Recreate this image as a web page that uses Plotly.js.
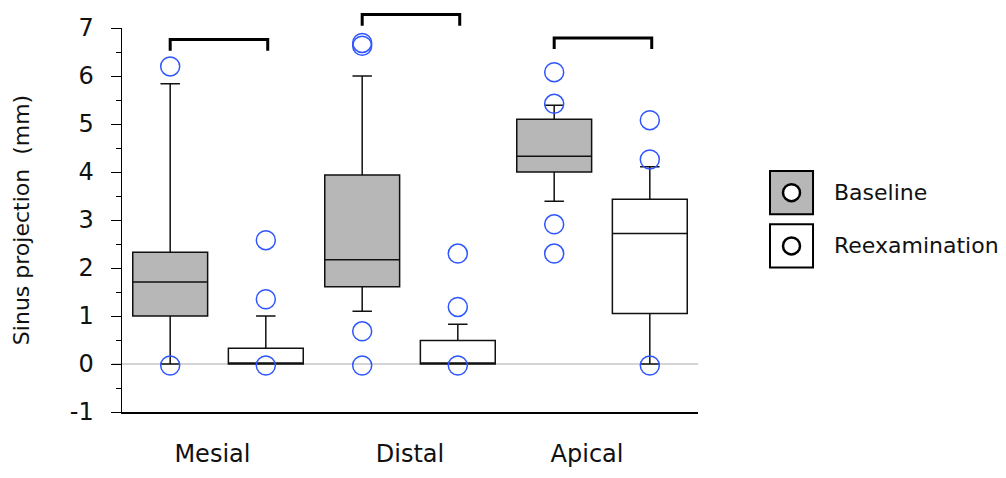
<!DOCTYPE html>
<html>
<head>
<meta charset="utf-8">
<script src="https://cdn.plot.ly/plotly-3.0.1.min.js"></script>
<style>html,body{margin:0;padding:0;background:#fff;}#chart{width:1006px;height:478px;}</style>
</head>
<body>
<div id="chart"></div>
<script>
// ---- data ----
const categories = ['Mesial', 'Distal', 'Apical'];
const seriesNames = ['Baseline', 'Reexamination'];

const baseQ1     = [1.00, 1.61, 4.00];
const baseMedian = [1.71, 2.17, 4.33];
const baseQ3     = [2.33, 3.94, 5.10];
const baseLower  = [0.00, 1.10, 3.39];
const baseUpper  = [5.84, 6.00, 5.39];

const reQ1     = [0.00, 0.00, 1.05];
const reMedian = [0.00, 0.00, 2.72];
const reQ3     = [0.33, 0.49, 3.43];
const reLower  = [0.00, 0.00, 0.00];
const reUpper  = [1.00, 0.83, 4.11];

const baseOutliers = [[6.20, -0.03], [6.69, 6.63, 0.68, -0.03], [6.08, 5.42, 2.91, 2.30]];
const reOutliers   = [[2.58, 1.35, -0.03], [2.30, 1.19, -0.03], [5.08, 4.26, -0.03]];

const yTickVals = [-1, 0, 1, 2, 3, 4, 5, 6, 7];
const yTickText = ['-1', '0', '1', '2', '3', '4', '5', '6', '7'];

// ---- layout helpers ----
const off = 0.249, bw = 0.39;
const idx = categories.map((c, i) => i);
const basePos = idx.map(i => i - off);
const rePos = idx.map(i => i + off);
const labelShift = [-0.029, 0.0, -0.078];   // label placement tweak (layout only)
const FONT = 'DejaVu Sans, sans-serif';
const BLUE = '#2f55ff';

function outlierTrace(pos, outs) {
  const x = [], y = [];
  outs.forEach((arr, i) => arr.forEach(v => { x.push(pos[i]); y.push(v); }));
  return {type: 'scatter', mode: 'markers', x: x, y: y, showlegend: false, hoverinfo: 'skip',
    marker: {symbol: 'circle-open', size: 19, color: BLUE, line: {width: 1.5, color: BLUE}}};
}

const traces = [
  {type: 'box', name: seriesNames[0], x: basePos, q1: baseQ1, median: baseMedian, q3: baseQ3,
   lowerfence: baseLower, upperfence: baseUpper, width: bw, whiskerwidth: 0.26,
   fillcolor: '#b7b7b7', line: {color: '#111', width: 1.5}, boxpoints: false, showlegend: false, hoverinfo: 'skip'},
  {type: 'box', name: seriesNames[1], x: rePos, q1: reQ1, median: reMedian, q3: reQ3,
   lowerfence: reLower, upperfence: reUpper, width: bw, whiskerwidth: 0.26,
   fillcolor: '#ffffff', line: {color: '#111', width: 1.5}, boxpoints: false, showlegend: false, hoverinfo: 'skip'},
  outlierTrace(basePos, baseOutliers),
  outlierTrace(rePos, reOutliers)
];

// brackets (paper y, top / bottom of legs)
const bracketTop = [0.970, 1.035, 0.974];
const bracketLeg = 0.029;
const shapes = [];
idx.forEach(i => {
  shapes.push({type: 'path', xref: 'x', yref: 'paper',
    path: `M ${basePos[i]},${bracketTop[i] - bracketLeg} L ${basePos[i]},${bracketTop[i]} L ${rePos[i] + 0.01},${bracketTop[i]} L ${rePos[i] + 0.01},${bracketTop[i] - bracketLeg}`,
    line: {color: '#000', width: 3}});
});
// zero reference line
shapes.push({type: 'line', xref: 'paper', yref: 'y', x0: -0.0174, x1: 1, y0: 0, y1: 0,
  line: {color: '#aaaaaa', width: 1}, layer: 'below'});

// manual legend
const legFill = ['#b7b7b7', '#ffffff'];
const legBoxTop = [0.6276, 0.4888];
const legBoxH = 0.1128;
const legX0 = 1.125, legX1 = 1.1997;
const annotations = [];
seriesNames.forEach((n, k) => {
  shapes.push({type: 'rect', xref: 'paper', yref: 'paper', x0: legX0, x1: legX1,
    y0: legBoxTop[k] - legBoxH, y1: legBoxTop[k], fillcolor: legFill[k], line: {color: '#000', width: 2}});
  const cy = legBoxTop[k] - legBoxH / 2;
  shapes.push({type: 'circle', xref: 'paper', yref: 'paper', xsizemode: 'pixel', ysizemode: 'pixel',
    xanchor: (legX0 + legX1) / 2, yanchor: cy, x0: -8.5, x1: 8.5, y0: -8.5, y1: 8.5,
    fillcolor: '#ffffff', line: {color: '#000', width: 2.5}});
  annotations.push({xref: 'paper', yref: 'paper', x: 1.2326, y: cy, xanchor: 'left', yanchor: 'middle',
    text: n, showarrow: false, font: {family: FONT, size: 22, color: '#111'}});
});

const layout = {
  width: 1006, height: 478,
  margin: {l: 122, r: 308, t: 28, b: 66, pad: 0},
  paper_bgcolor: '#ffffff', plot_bgcolor: '#ffffff',
  font: {family: FONT, size: 22, color: '#111'},
  showlegend: false,
  xaxis: {
    range: [-0.5, 2.5], tickvals: idx.map(i => i + labelShift[i]), ticktext: categories, ticks: '',
    showgrid: false, zeroline: false, showline: true, linecolor: '#000', linewidth: 1.5,
    ticklabelstandoff: 20, tickfont: {family: FONT, size: 24, color: '#111'}, fixedrange: true
  },
  yaxis: {
    range: [-1, 7], tickvals: yTickVals, ticktext: yTickText,
    ticks: 'outside', ticklen: 10, tickwidth: 1, tickcolor: '#000',
    minor: {dtick: 0.5, tick0: 0, ticks: 'outside', ticklen: 5, tickwidth: 1, tickcolor: '#000', showgrid: false},
    showgrid: false, zeroline: false, showline: true, linecolor: '#000', linewidth: 1.5,
    ticklabelstandoff: 12, tickfont: {family: FONT, size: 24, color: '#111'},
    title: {text: 'Sinus projection \u00a0(mm)', standoff: 34, font: {family: FONT, size: 22, color: '#111'}},
    automargin: false, fixedrange: true
  },
  shapes: shapes,
  annotations: annotations
};

Plotly.newPlot('chart', traces, layout, {staticPlot: true, displayModeBar: false});
</script>
</body>
</html>
